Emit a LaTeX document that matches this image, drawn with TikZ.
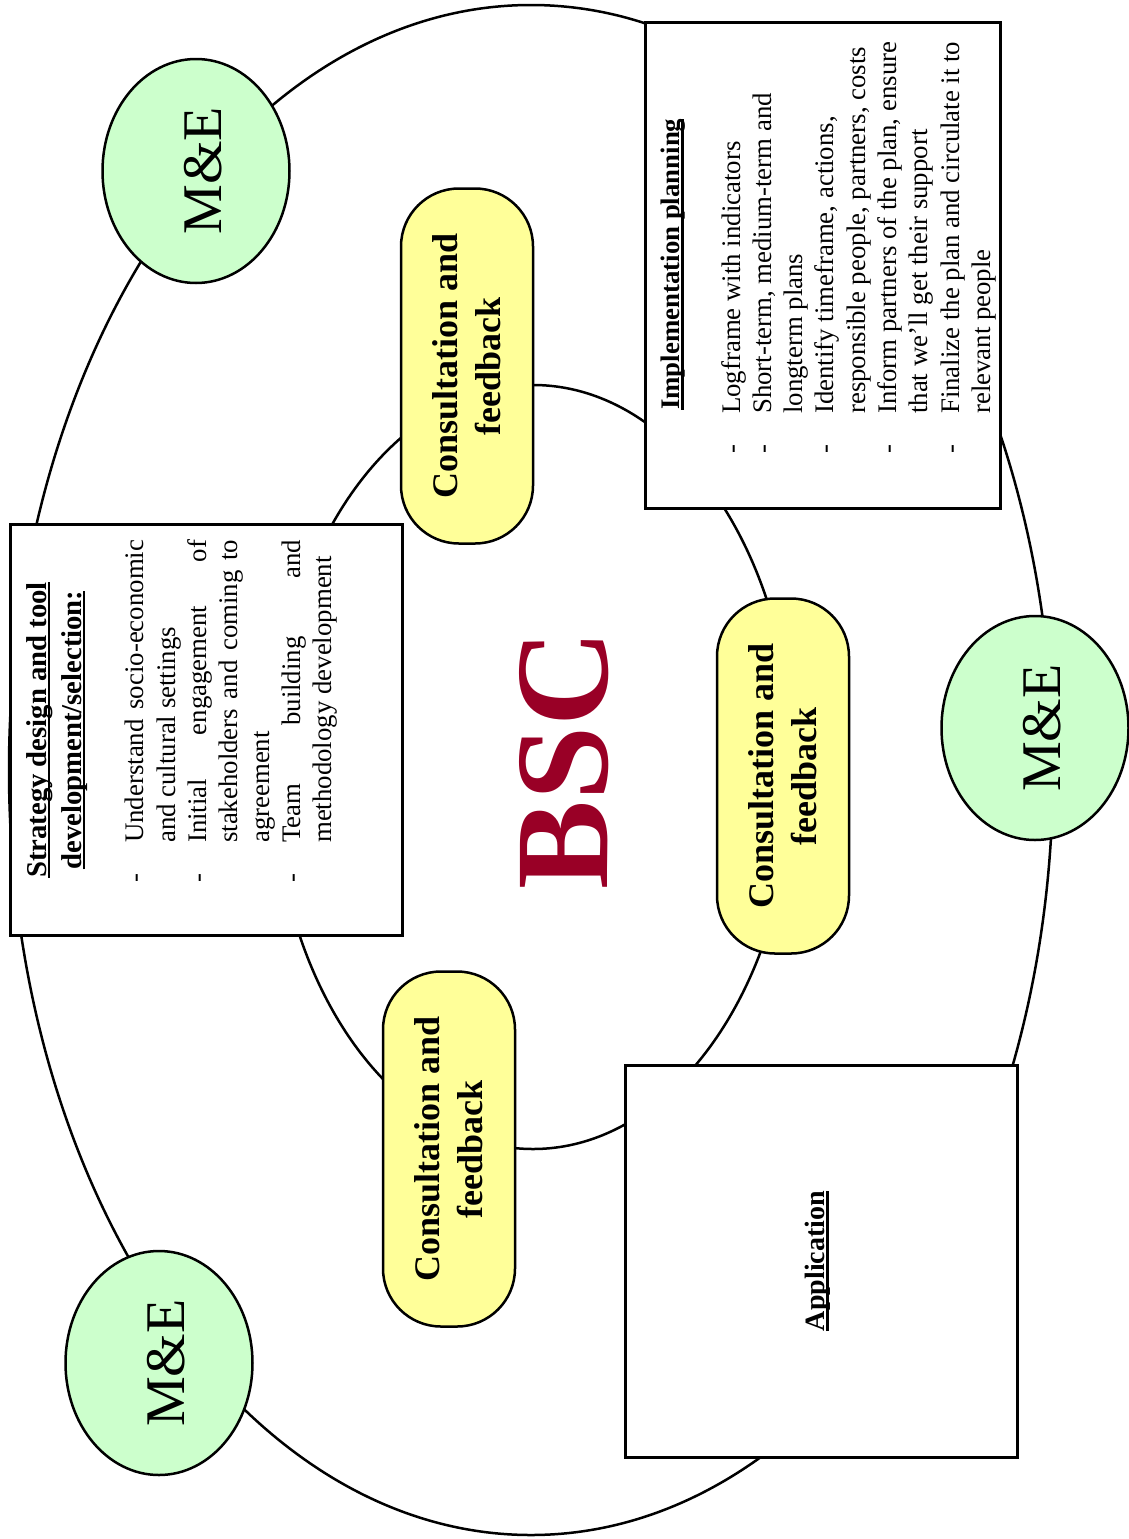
\documentclass[tikz,border=0pt]{standalone}
\usepackage{fontspec}
\setmainfont{Liberation Serif}
\usetikzlibrary{shapes.geometric}
\definecolor{meGreen}{HTML}{CCFFCC}
\definecolor{cfYellow}{HTML}{FFFF99}
\definecolor{bscRed}{RGB}{153,0,38}
% underline drawn at a fixed depth below the baseline
\newsavebox\ulbox
\newcommand\hdul[1]{\sbox\ulbox{#1}\rlap{\rule[-4pt]{\wd\ulbox}{2.6pt}}\usebox\ulbox}
\newcommand\bodyfont{\fontsize{26.8}{31.3}\selectfont}
\newcommand\dashitem{\makebox[40pt][l]{-}}
\newcommand\contline{\hspace*{40pt}}
\begin{document}
\begin{tikzpicture}[x=1pt,y=-1pt,
  ring/.style={draw, line width=2.5pt, ellipse, inner sep=0pt},
  mecirc/.style={ellipse, draw, line width=2.5pt, fill=meGreen, rotate=90,
    minimum width=224pt, minimum height=187pt, inner sep=0pt,
    font=\fontsize{56}{60}\selectfont, text height=50pt, text depth=0pt},
  pill/.style={rectangle, rounded corners=58pt, draw, line width=2.5pt,
    fill=cfYellow, rotate=90, minimum width=355pt, minimum height=132pt,
    align=center, inner sep=0pt, font=\bfseries\fontsize{36}{43}\selectfont},
  panel/.style={rectangle, draw, line width=3pt, fill=white, inner sep=0pt},
  vtext/.style={rotate=90, inner sep=0pt, align=left},
]
\useasboundingbox (0,0) rectangle (1128,1539);

% the two rings of the cycle
\node[ring, minimum width=1044pt, minimum height=1530pt] (outer) at (531,770) {};
\node[ring, minimum width=520pt, minimum height=764pt] (inner) at (533,767) {};

% stage panels
\node[panel, minimum width=392pt, minimum height=411pt] (strat) at (206,729.5) {};
\node[panel, minimum width=355pt, minimum height=486pt] (impl) at (822.5,265) {};
\node[panel, minimum width=392pt, minimum height=392pt] (appl) at (821,1261) {};

% monitoring and evaluation points
\node[mecirc] (me1) at (196,171) {M\&E};
\node[mecirc] (me2) at (1035,728) {M\&E};
\node[mecirc] (me3) at (159,1363) {M\&E};

% consultation steps on the inner ring
\node[pill] (cf1) at (467,366) {Consultation and\\feedback};
\node[pill] (cf2) at (783,776) {Consultation and\\feedback};
\node[pill] (cf3) at (449,1149) {Consultation and\\feedback};

% centre title
\node[rotate=90, inner sep=0pt, text=bscRed,
  font=\bfseries\fontsize{133}{133}\selectfont] (bsc) at (564,760) {BSC};

% strategy panel text
\node[vtext, anchor=north, align=center, font=\bfseries\fontsize{28.7}{35}\selectfont]
  (strathead) at (26,730) {\hdul{Strategy design and tool}\\\hdul{development/selection:}};
\node[vtext, anchor=north west, font=\bodyfont] (stratlist) at (125,883) {%
\dashitem\makebox[303pt][s]{Understand socio-economic}\\%
\contline and cultural settings\\%
\dashitem\makebox[303pt][s]{Initial engagement of}\\%
\contline\makebox[303pt][s]{stakeholders and coming to}\\%
\contline agreement\\%
\dashitem\makebox[303pt][s]{Team building and}\\%
\contline methodology development};

% implementation panel text
\node[vtext, anchor=north west, font=\bfseries\fontsize{26.8}{31}\selectfont]
  (implhead) at (661,410) {\hdul{Implementation planning}};
\node[vtext, anchor=north west, font=\bodyfont] (impllist) at (721,454) {%
\dashitem Logframe with indicators\\%
\dashitem Short-term, medium-term and\\%
\contline longterm plans\\%
\dashitem Identify timeframe, actions,\\%
\contline responsible people, partners, costs\\%
\dashitem Inform partners of the plan, ensure\\%
\contline that we’ll get their support\\%
\dashitem Finalize the plan and circulate it to\\%
\contline relevant people};

% application panel text
\node[vtext, font=\bfseries\fontsize{28}{32}\selectfont] (appltext) at (818,1261)
  {\hdul{Application}};
\end{tikzpicture}
\end{document}
